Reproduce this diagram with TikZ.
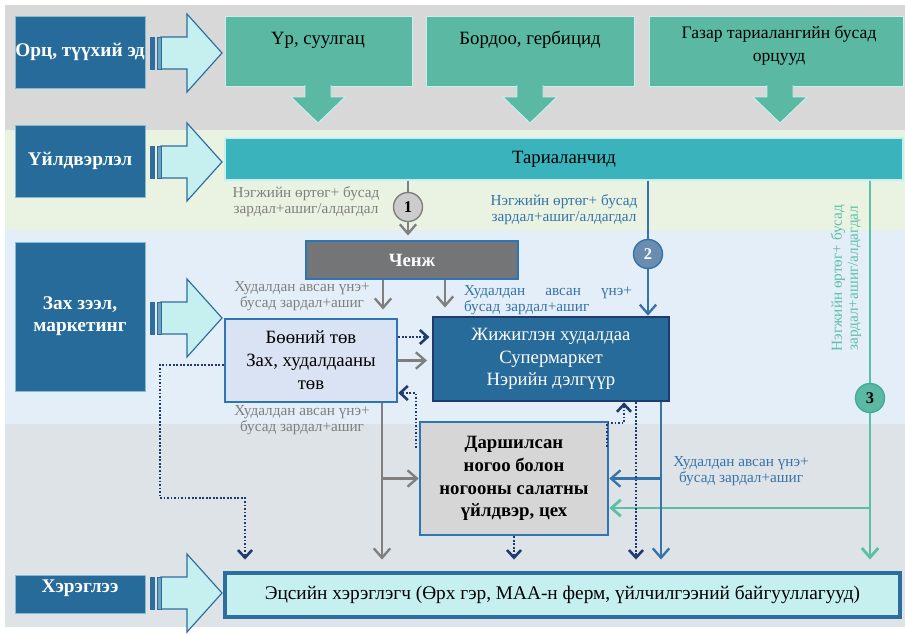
\documentclass[tikz,border=0pt]{standalone}
\usepackage{fontspec}
\setmainfont{Liberation Serif}
\usetikzlibrary{arrows.meta}

\definecolor{bandgray}{HTML}{D8D8D8}
\definecolor{bandgreen}{HTML}{EAF3E2}
\definecolor{bandblue}{HTML}{E4EEF8}
\definecolor{bandslate}{HTML}{DEE3E8}
\definecolor{labelblue}{HTML}{276B9A}
\definecolor{arrowfill}{HTML}{C6F0F0}
\definecolor{arrowline}{HTML}{2E6E9E}
\definecolor{topgreen}{HTML}{5BB8A3}
\definecolor{barteal}{HTML}{3BB3BC}
\definecolor{chenjgray}{HTML}{737576}
\definecolor{boxblue}{HTML}{2E75B6}
\definecolor{boofill}{HTML}{DAE3F3}
\definecolor{navy}{HTML}{1F3A6E}
\definecolor{arrowgray}{HTML}{7F7F7F}
\definecolor{linegreen}{HTML}{5CBFA5}
\definecolor{lineblue}{HTML}{3573A8}
\definecolor{circblue}{HTML}{6A8CB0}
\definecolor{darfill}{HTML}{D6D6D6}

\begin{document}
\begin{tikzpicture}[x = 0.03cm, y = -0.03cm,
    sidebox/.style = {fill = labelblue, draw = arrowfill!60!labelblue, line width = 0.8pt, text = white,
                      font = \fontsize{16.5}{19}\selectfont\bfseries, align = center, minimum width = 3.9cm,
                      inner xsep = 0pt},
    topbox/.style = {fill = topgreen, draw = arrowfill, line width = 0.8pt, minimum height = 2.1cm},
    bigtext/.style = {font = \fontsize{16}{19.5}\selectfont, align = center},
    smalltext/.style = {font = \fontsize{13}{13.5}\selectfont, align = center},
    numcirc/.style = {circle, draw, line width = 1.2pt, minimum size = 0.87cm, inner sep = 0pt,
                      font = \fontsize{14}{14}\selectfont\bfseries},
    gline/.style = {draw = arrowgray, line width = 2pt},
    garrow/.style = {gline, -{Straight Barb[length = 8pt, width = 14pt]}},
    bline/.style = {draw = lineblue, line width = 2pt},
    barrow/.style = {bline, -{Straight Barb[length = 8pt, width = 14pt]}},
    eline/.style = {draw = linegreen, line width = 2.4pt},
    earrow/.style = {eline, -{Straight Barb[length = 8pt, width = 14pt]}},
    darrow/.style = {draw = navy, line width = 2.2pt, dash pattern = on 1.5pt off 1.5pt,
                     -{Straight Barb[length = 6.5pt, width = 12pt]}},
    toecs/.style = {shorten > = 10pt}]
    \useasboundingbox (0,0) rectangle (905,633);

    % bands
    \fill[bandgray] (5,5) rectangle (905,130);
    \fill[bandgreen] (5,130) rectangle (905,230);
    \fill[bandblue] (5,230) rectangle (905,424);
    \fill[bandslate] (5,424) rectangle (905,627);

    % left column
    \node[sidebox, minimum height = 2.16cm] (orts) at (80,52) {Орц, түүхий эд};
    \node[sidebox, minimum height = 2.16cm] (uild) at (80,161) {Үйлдвэрлэл};
    \node[sidebox, minimum height = 4.47cm] (zah) at (80,316.5) {Зах зээл,\\маркетинг};
    \node[sidebox, minimum height = 1.14cm, text depth = 14pt] (hereg) at (80,594) {Хэрэглээ};

    \foreach \y in {53,162,318,593}{
        \draw[arrowline, fill = arrowfill, line width = 1pt] (161,\y-16) -- (187,\y-16) -- (187,\y-39)
            -- (222,\y) -- (187,\y+39) -- (187,\y+16) -- (161,\y+16) -- cycle;
        \draw[arrowline, fill = arrowline, line width = 0.6pt] (150,\y-16) rectangle (154,\y+16);
        \draw[arrowline, fill = arrowline!60!arrowfill, line width = 0.6pt] (157,\y-16) rectangle (161,\y+16);
    }

    % inputs
    \node[topbox, minimum width = 5.61cm] (seed) at (318.5,51) {};
    \node[topbox, minimum width = 6.24cm] (fert) at (530,51) {};
    \node[topbox, minimum width = 7.62cm] (other) at (776,51) {};
    \foreach \x in {318,530,780}{
        \draw[draw = arrowfill, fill = topgreen, line width = 0.8pt] (\x-13,85) -- (\x-13,97) -- (\x-27,97)
            -- (\x,123) -- (\x+27,97) -- (\x+13,97) -- (\x+13,85);
    }
    \node[bigtext] (seedtxt) at (318,40) {Үр, суулгац};
    \node[bigtext] (ferttxt) at (530,40) {Бордоо, гербицид};
    \node[bigtext, font = \fontsize{15}{19.5}\selectfont] (othertxt) at (779,46) {Газар тариалангийн бусад\\орцууд};

    % production
    \node[bigtext, fill = barteal, draw = arrowfill, line width = 1pt, minimum width = 20.34cm,
          minimum height = 1.26cm] (farmer) at (564,159) {Тариаланчид};
    \node[smalltext, text = arrowgray] (cost1) at (306,202) {Нэгжийн өртөг+ бусад\\зардал+ашиг/алдагдал};
    \node[smalltext, text = lineblue] (cost2) at (564,210) {Нэгжийн өртөг+ бусад\\зардал+ашиг/алдагдал};
    \node[smalltext, text = linegreen, rotate = 90] (cost3) at (846,278) {Нэгжийн өртөг+ бусад\\зардал+ашиг/алдагдал};

    % market
    \node[fill = chenjgray, draw = boxblue, line width = 1.5pt, minimum width = 6.36cm, minimum height = 1.14cm,
          text = white, font = \fontsize{16}{18}\selectfont\bfseries] (chenj) at (412,260) {Ченж};
    \node[bigtext, fill = boofill, draw = boxblue, line width = 2.2pt, minimum width = 5.16cm,
          minimum height = 2.49cm] (boo) at (311,360.5) {Бөөний төв\\Зах, худалдааны\\төв};
    \node[bigtext, fill = labelblue, draw = navy, line width = 2.2pt, minimum width = 7.08cm,
          minimum height = 2.52cm, text = white] (zhi) at (551,359) {Жижиглэн худалдаа\\Супермаркет\\Нэрийн дэлгүүр};
    \node[bigtext, font = \fontsize{16}{19.5}\selectfont\bfseries, fill = darfill, draw = boxblue, line width = 2.2pt,
          minimum width = 5.64cm, minimum height = 3.39cm] (dar) at (514,478.5) {Даршилсан\\ногоо болон\\ногооны салатны\\үйлдвэр, цех};
    \node[smalltext, text = arrowgray] (price1) at (302,296) {Худалдан авсан үнэ+\\бусад зардал+ашиг};
    \node[smalltext, text = lineblue, text width = 5.04cm, align = left, inner sep = 0pt] (price2) at (548,300)
        {Худалдан\hfill авсан\hfill үнэ+\\бусад зардал+ашиг};
    \node[smalltext, text = arrowgray] (price3) at (302,420) {Худалдан авсан үнэ+\\бусад зардал+ашиг};
    \node[smalltext, text = lineblue] (price4) at (741,471) {Худалдан авсан үнэ+\\бусад зардал+ашиг};

    % consumer
    \node[bigtext, font = \fontsize{16.5}{19.5}\selectfont, fill = arrowfill, draw = arrowline, line width = 3pt,
          minimum width = 20.25cm, minimum height = 1.32cm] (ecs) at (562.5,595)
        {Эцсийн хэрэглэгч (Өрх гэр, МАА-н ферм, үйлчилгээний байгууллагууд)};

    % channels
    \node[numcirc, fill = gray!40, draw = arrowgray] (n1) at (408,207) {1};
    \node[numcirc, fill = circblue, draw = lineblue, text = white] (n2) at (648,254) {2};
    \node[numcirc, fill = topgreen, draw = linegreen!70!teal] (n3) at (870,398) {3};

    \coordinate (chenjL) at (383,0);
    \coordinate (chenjR) at (445,0);
    \coordinate (dotA) at (0,337);
    \coordinate (grayX) at (382,0);
    \coordinate (navyX) at (636,0);
    \coordinate (blueX) at (661,0);
    \coordinate (greenY) at (0,508);
    \coordinate (loopA) at (160,365);
    \coordinate (loopB) at (245,498);
    \coordinate (upA) at (416,448);
    \coordinate (upB) at (0,393);
    \coordinate (rtA) at (607,447);
    \coordinate (rtB) at (624,423);

    \draw[gline] (farmer.south -| n1) -- (n1);
    \draw[garrow, shorten > = 4pt] (n1) -- (chenj.north -| n1);
    \draw[bline] (farmer.south -| n2) -- (n2);
    \draw[barrow] (n2) -- (zhi.north -| n2);
    \draw[eline] (farmer.south -| n3) -- (n3);
    \draw[earrow, toecs] (n3) -- (ecs.north -| n3);
    \draw[earrow] (n3 |- greenY) -- (dar.east |- greenY);

    \draw[garrow, shorten > = 7pt] (chenj.south -| chenjL) -- (boo.north -| chenjL);
    \draw[garrow, shorten > = 7pt] (chenj.south -| chenjR) -- (zhi.north -| chenjR);
    \draw[darrow, shorten > = 2pt] (boo.east |- dotA) -- (zhi.west |- dotA);
    \draw[garrow, shorten > = 4pt] (boo.east) -- (boo.east -| zhi.west);
    \draw[darrow] (upA) |- (boo.east |- upB);
    \draw[darrow] (rtA) |- (rtB) -- (zhi.south -| rtB);

    \draw[garrow, toecs] (boo.south -| grayX) -- (ecs.north -| grayX);
    \draw[garrow] (dar.west -| grayX) -- (dar.west);
    \draw[barrow, toecs] (zhi.south -| blueX) -- (ecs.north -| blueX);
    \draw[barrow] (dar.east -| blueX) -- (dar.east);
    \draw[darrow, toecs] (zhi.south -| navyX) -- (ecs.north -| navyX);
    \draw[darrow, toecs] (dar.south) -- (ecs.north -| dar.south);
    \draw[darrow, toecs] (boo.west |- loopA) -- (loopA) |- (loopB) -- (ecs.north -| loopB);
\end{tikzpicture}
\end{document}
